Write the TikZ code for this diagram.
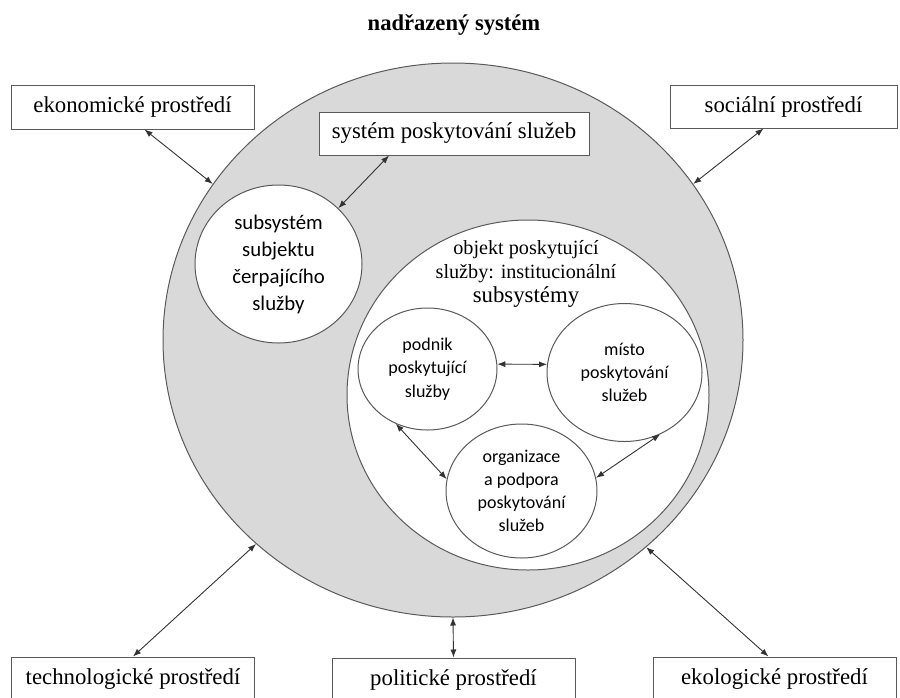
\documentclass[tikz,border=0pt]{standalone}
\usepackage{fontspec}
\setmainfont{Liberation Serif}
\newfontfamily\calibri{Carlito}
\usetikzlibrary{shapes.geometric,arrows.meta}
\definecolor{ringgray}{HTML}{D9D9D9}
\definecolor{edgegray}{HTML}{5A5A5A}
\tikzset{
    envbox/.style={draw=edgegray, line width=0.5pt, minimum width=121.5pt, minimum height=22pt,
        inner sep=0pt, font=\fontsize{11.4}{13.7}\selectfont},
    blob/.style={ellipse, draw=edgegray, line width=0.5pt, fill=white, inner sep=0pt, align=center},
    twoway/.style={draw=black!80, line width=0.45pt,
        {Latex[length=4pt,width=3pt]}-{Latex[length=4pt,width=3pt]}}
}
\begin{document}
\begin{tikzpicture}[x=0.5pt, y=-0.5pt]
            \useasboundingbox (0, 0) rectangle (900, 697);

            %%the rings
            \node[blob, fill=ringgray, minimum width=290pt, minimum height=277pt] (whole) at (453, 340){};
            \node[blob, minimum width=181pt, minimum height=175pt] (objekt) at (528, 395){};
            \node[blob, minimum width=83.5pt, minimum height=79pt, font=\calibri\fontsize{10.4}{13.5}\selectfont] (klient) at (278.5, 264)
                {subsystém\\subjektu\\čerpajícího\\služby};
            \node[align=center, font=\fontsize{10.1}{12}\selectfont] (objlabel) at (526, 274)
                {objekt poskytující\\služby: institucionální\\{\fontsize{11.4}{12}\selectfont subsystémy}};

            %%the inner subsystems
            \node[blob, minimum width=69.5pt, minimum height=61pt, font=\calibri\fontsize{9}{11.6}\selectfont] (podnik) at (427.5, 369)
                {podnik\\poskytující\\služby};
            \node[blob, minimum width=77.5pt, minimum height=69pt, font=\calibri\fontsize{9}{11.6}\selectfont] (misto) at (624.5, 372.5)
                {místo\\poskytování\\služeb};
            \node[blob, minimum width=75.5pt, minimum height=67pt, font=\calibri\fontsize{9}{11.6}\selectfont] (organizace) at (521.5, 491)
                {organizace\\a podpora\\poskytování\\služeb};

            %%the boxes
            \node[font=\bfseries\fontsize{11.3}{13.6}\selectfont] (nadsystem) at (454, 25){nadřazený systém};
            \node[envbox] (ekonom) at (132.5, 107){ekonomické prostředí};
            \node[envbox, minimum width=135pt, minimum height=21.5pt, fill=white] (poskyt) at (454, 133.5){systém poskytování služeb};
            \node[envbox, minimum width=113.5pt, minimum height=21.5pt] (social) at (783.5, 106.5){sociální prostředí};
            \node[envbox] (techno) at (133, 679){technologické prostředí};
            \node[envbox] (polit) at (453.5, 680){politické prostředí};
            \node[envbox] (ekolog) at (774.5, 679){ekologické prostředí};

            %%draw the arrows
            \draw[twoway] ([xshift=6pt]ekonom.south) to (whole.147);
            \draw[twoway] ([xshift=-32.5pt]poskyt.south) to (klient.43);
            \draw[twoway] ([xshift=-10pt]social.south) to (whole.33);
            \draw[twoway] (techno.north) to (whole.226);
            \draw[twoway] (polit.north) to (whole.270);
            \draw[twoway] ([xshift=-3pt]ekolog.north) to (whole.313);
            \draw[twoway] (podnik.4) to (misto.174);
            \draw[twoway] (podnik.240) to (organizace.171);
            \draw[twoway] (misto.300) to (organizace.10);
\end{tikzpicture}
\end{document}
